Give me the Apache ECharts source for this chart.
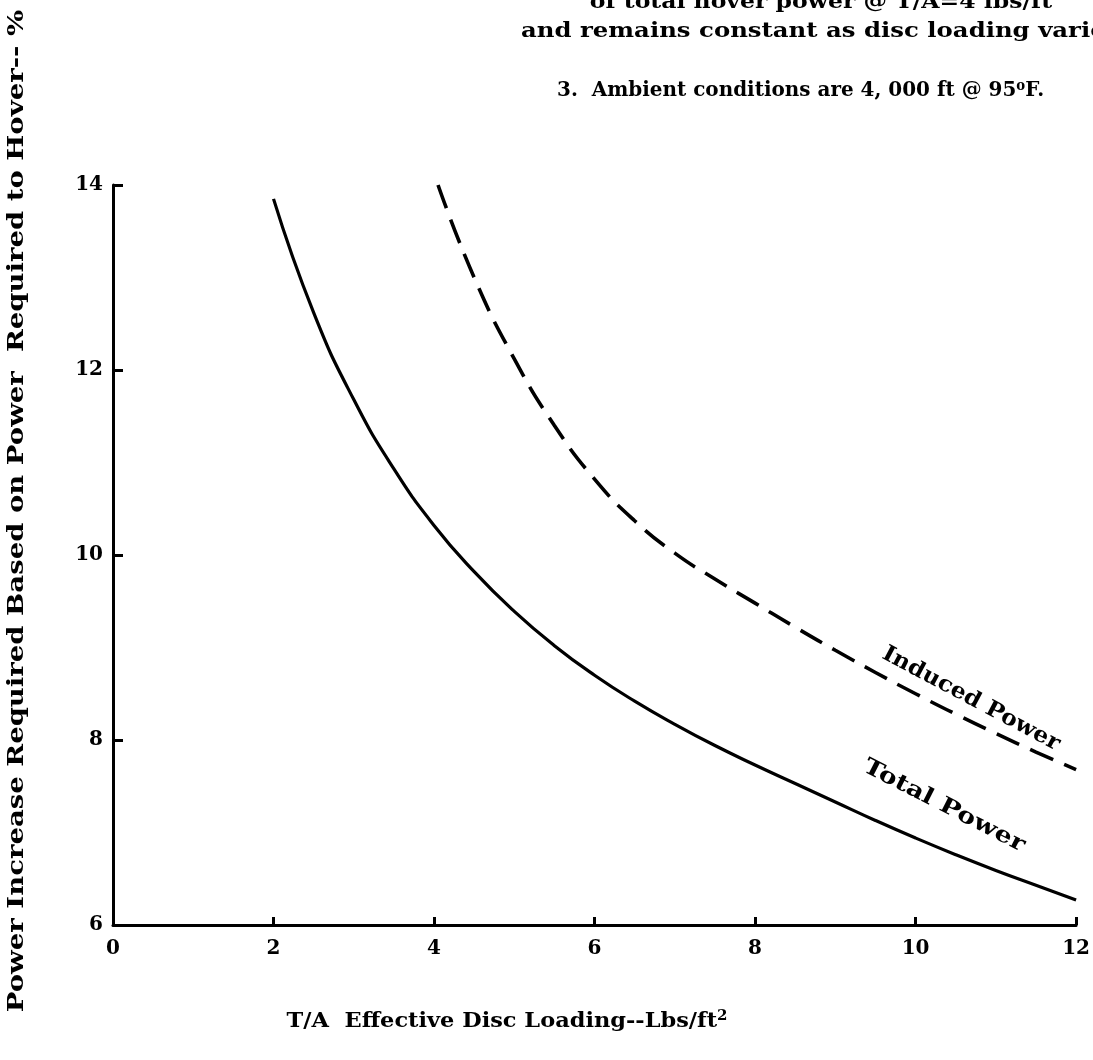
<!DOCTYPE html>
<html>
<head>
<meta charset="UTF-8">
<title>Power increase vs disc loading</title>
<script src="https://cdn.jsdelivr.net/npm/echarts@6/dist/echarts.min.js"></script>
<style>
  html, body { margin: 0; padding: 0; background: #fff; }
  #main { width: 1093px; height: 1060px; }
</style>
</head>
<body>
<div id="main"></div>
<script>
// T/A effective disc loading (lbs/ft2) and % power increase
var totalX = [2.0, 2.5, 3.0, 3.5, 4.0, 4.5, 5.0, 5.5, 6.0, 6.5, 7.0, 7.5, 8.0, 8.5, 9.0, 9.5, 10.0, 10.5, 11.0, 11.5, 12.0];
var totalY = [13.85, 12.62, 11.68, 10.93, 10.32, 9.82, 9.39, 9.02, 8.7, 8.42, 8.17, 7.94, 7.73, 7.53, 7.33, 7.13, 6.94, 6.76, 6.59, 6.43, 6.27];

var inducedX = [4.05, 4.5, 5.0, 5.5, 6.0, 6.5, 7.0, 7.5, 8.0, 8.5, 9.0, 9.5, 10.0, 10.5, 11.0, 11.5, 12.0];
var inducedY = [14.0, 13.0, 12.12, 11.4, 10.82, 10.37, 10.02, 9.74, 9.48, 9.22, 8.97, 8.73, 8.5, 8.28, 8.07, 7.87, 7.68];

var xTicks = [0, 2, 4, 6, 8, 10, 12];
var yTicks = [6, 8, 10, 12, 14];

function pairs(xs, ys) {
  var out = [];
  for (var i = 0; i < xs.length; i++) out.push([xs[i], ys[i]]);
  return out;
}

var font = 'DejaVu Serif';
var ink = '#000';

// plain text block, stretched a little along its own direction to match the typeface
function label(txt, x, y, size, sx, rot, align) {
  return {
    type: 'text', x: x, y: y, scaleX: sx, rotation: rot || 0,
    style: {
      text: txt,
      font: 'bold ' + size + 'px "DejaVu Serif"', fill: ink,
      textAlign: align || 'center', textVerticalAlign: 'middle'
    }
  };
}

var myChart = echarts.init(document.getElementById('main'));
var option = {
  backgroundColor: '#fff',
  animation: false,
  grid: { left: 113, right: 6, top: 185, bottom: 135 },
  xAxis: {
    type: 'value',
    min: xTicks[0],
    max: xTicks[xTicks.length - 1],
    interval: 2,
    axisLine: { show: true, onZero: false, lineStyle: { color: ink, width: 3 } },
    axisTick: { show: true, inside: true, length: 8, lineStyle: { color: ink, width: 3 } },
    splitLine: { show: false },
    axisLabel: { color: ink, fontFamily: font, fontWeight: 'bold', fontSize: 20, margin: 14 }
  },
  yAxis: {
    type: 'value',
    min: yTicks[0],
    max: yTicks[yTicks.length - 1],
    interval: 2,
    axisLine: { show: true, onZero: false, lineStyle: { color: ink, width: 3 } },
    axisTick: { show: true, inside: true, length: 10, lineStyle: { color: ink, width: 3 } },
    splitLine: { show: false },
    axisLabel: { color: ink, fontFamily: font, fontWeight: 'bold', fontSize: 20, margin: 10 }
  },
  series: [{
    name: 'Total Power',
    type: 'line',
    smooth: true,
    symbol: 'none',
    lineStyle: { color: ink, width: 3.2 },
    data: pairs(totalX, totalY)
  }, {
    name: 'Induced Power',
    type: 'line',
    smooth: true,
    symbol: 'none',
    lineStyle: { color: ink, width: 3.6, type: [25, 12] },
    data: pairs(inducedX, inducedY)
  }],
  graphic: [
    label('Power Increase Required Based on Power  Required to Hover-- %', 17, 511, 22, 1.25, Math.PI / 2),
    {
      type: 'text', x: 507, y: 1022, scaleX: 1.07,
      style: {
        text: '{a|T/A  Effective Disc Loading--Lbs/ft}{s|2}',
        rich: {
          a: { fontFamily: font, fontWeight: 'bold', fontSize: 21, fill: ink },
          s: { fontFamily: font, fontWeight: 'bold', fontSize: 14, fill: ink, verticalAlign: 'top', padding: [0, 0, 12, 0] }
        },
        textAlign: 'center', textVerticalAlign: 'middle'
      }
    },
    label('of total hover power @ T/A=4 lbs/ft', 1052, 3, 21, 1.12, 0, 'right'),
    label('and remains constant as disc loading varies.', 521, 32, 21, 1.16, 0, 'left'),
    {
      type: 'text', x: 557, y: 91, scaleX: 0.95,
      style: {
        text: '{a|3.  Ambient conditions are 4, 000 ft @ 95}{s|o}{a|F.}',
        rich: {
          a: { fontFamily: font, fontWeight: 'bold', fontSize: 21, fill: ink },
          s: { fontFamily: font, fontWeight: 'bold', fontSize: 14, fill: ink, verticalAlign: 'top', padding: [0, 0, 10, 0] }
        },
        textAlign: 'left', textVerticalAlign: 'middle'
      }
    },
    label('Induced Power', 971, 699, 22, 1.08, -28 * Math.PI / 180),
    label('Total Power', 944, 806, 22, 1.24, -27 * Math.PI / 180)
  ]
};
myChart.setOption(option);
</script>
</body>
</html>
